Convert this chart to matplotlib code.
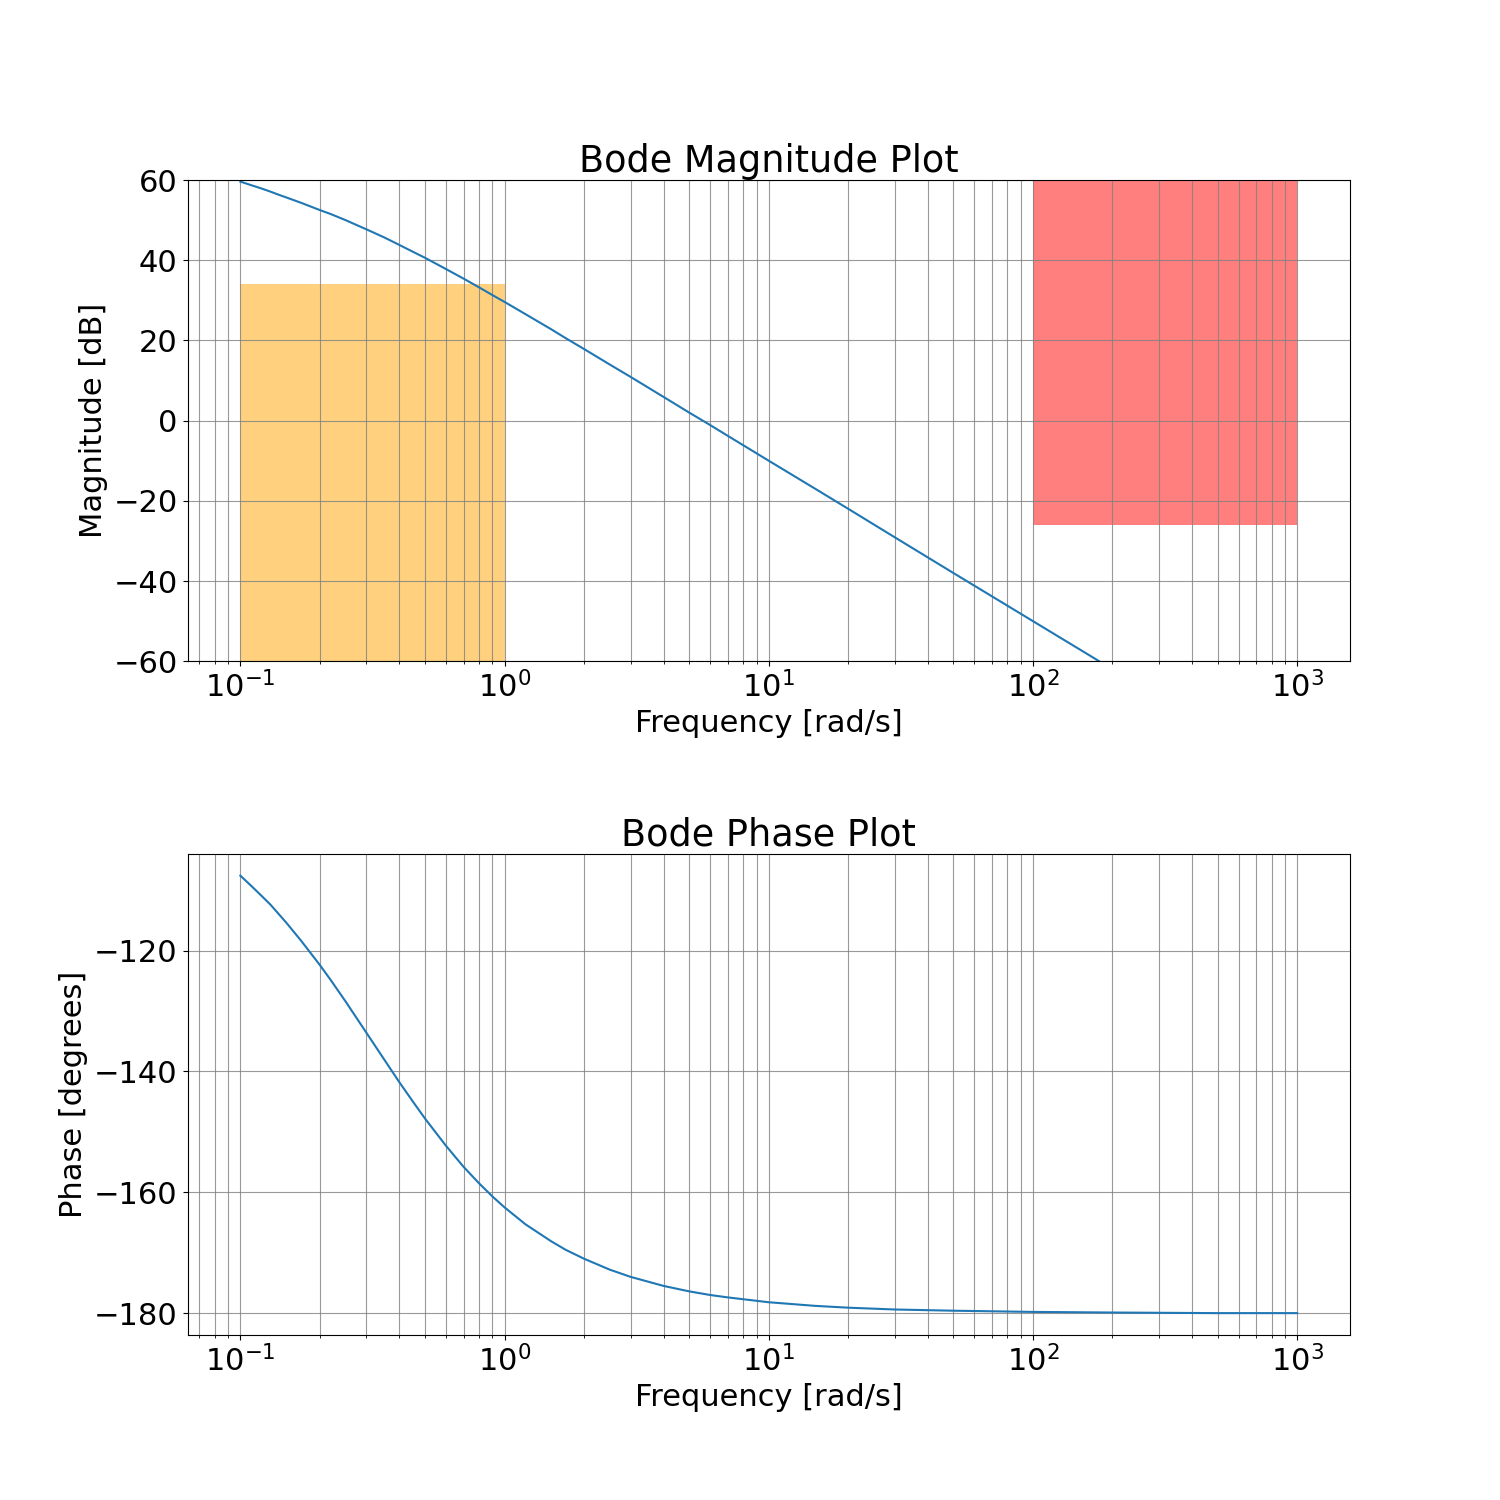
import numpy as np
import matplotlib
matplotlib.use('Agg')
import matplotlib.pyplot as plt

# frequencies [rad/s] and values
freq = [0.1, 0.11, 0.12, 0.13, 0.14, 0.15, 0.17, 0.2, 0.22, 0.25, 0.3, 0.35,
        0.4, 0.45, 0.5, 0.6, 0.7, 0.8, 0.9, 1.0, 1.2, 1.5, 1.7, 2.0, 2.5, 3.0,
        4.0, 5.0, 6.0, 7.0, 10.0, 15.0, 20.0, 30.0, 50.0, 100.0, 200.0, 500.0,
        1000.0]
mag_db = [59.6, 58.7, 57.9, 57.1, 56.3, 55.6, 54.3, 52.5, 51.5, 50.0, 47.7,
          45.7, 43.8, 42.1, 40.6, 37.8, 35.4, 33.25, 31.3, 29.6, 26.55, 22.8,
          20.6, 17.85, 14.0, 10.9, 5.9, 2.0, -1.1, -3.8, -10.0, -17.0, -22.0,
          -29.1, -38.0, -50.0, -62.0, -78.0, -90.0]
phase_deg = [-107.6, -109.3, -110.9, -112.4, -114.0, -115.5, -118.4, -122.4,
             -124.9, -128.4, -133.6, -138.0, -141.8, -145.0, -147.8, -152.3,
             -155.8, -158.5, -160.7, -162.5, -165.3, -168.1, -169.5, -171.0,
             -172.8, -174.0, -175.5, -176.4, -177.0, -177.4, -178.2, -178.8,
             -179.1, -179.4, -179.6, -179.8, -179.9, -180.0, -180.0]

# spec regions: (w_lo, w_hi, y_lo, y_hi)
low_band = (0.1, 1.0, -60, 34)
high_band = (100.0, 1000.0, -26, 60)

plt.rcParams['font.size'] = 22

fig, (ax1, ax2) = plt.subplots(2, 1, figsize=(15, 15))
fig.subplots_adjust(hspace=0.4)

ax1.semilogx(freq, mag_db)
ax1.fill_between([low_band[0], low_band[1]], low_band[2], low_band[3],
                 color='orange', alpha=0.5, linewidth=0)
ax1.fill_between([high_band[0], high_band[1]], high_band[2], high_band[3],
                 color='red', alpha=0.5, linewidth=0)
ax1.set_ylim(-60, 60)
ax1.set_title('Bode Magnitude Plot')
ax1.set_xlabel('Frequency [rad/s]')
ax1.set_ylabel('Magnitude [dB]')
ax1.grid(which='both', color='gray', alpha=0.8, linewidth=0.8)

ax2.semilogx(freq, phase_deg)
ax2.set_title('Bode Phase Plot')
ax2.set_xlabel('Frequency [rad/s]')
ax2.set_ylabel('Phase [degrees]')
ax2.grid(which='both', color='gray', alpha=0.8, linewidth=0.8)

fig.savefig('out.png', dpi=100)
